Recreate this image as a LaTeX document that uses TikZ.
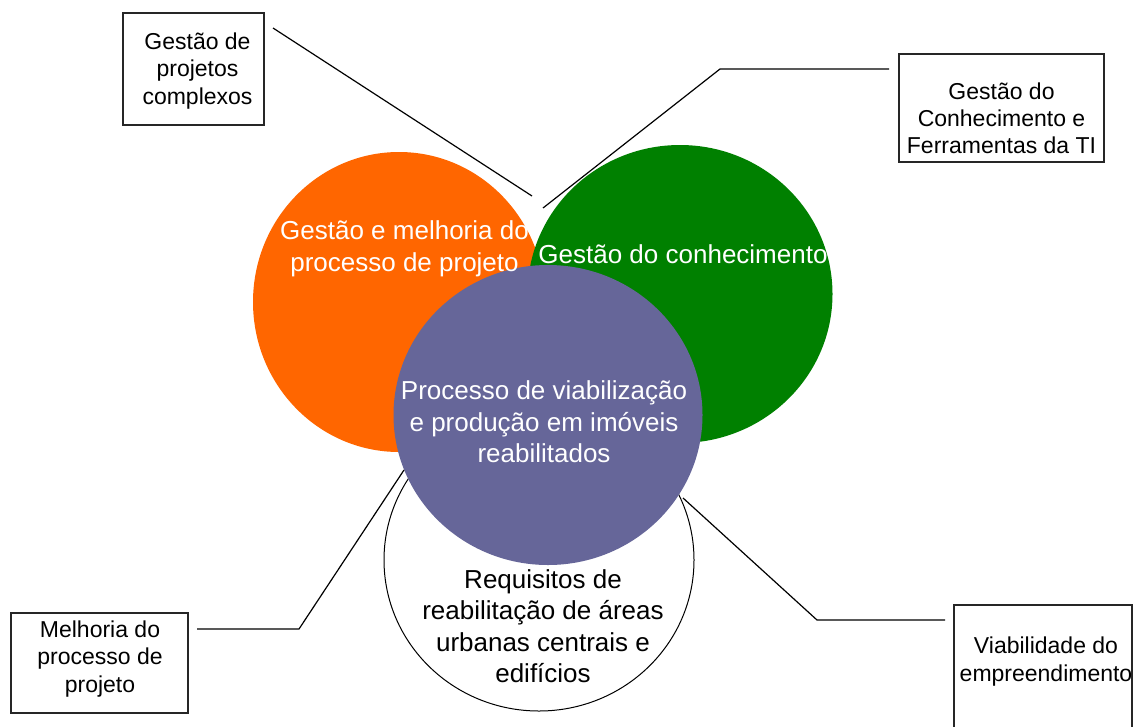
\documentclass[tikz,border=0pt]{standalone}
\usepackage{fontspec}
\setmainfont{Liberation Sans}
\usetikzlibrary{shapes.geometric}
\definecolor{corange}{HTML}{FF6600}
\definecolor{cgreen}{HTML}{008000}
\definecolor{cpurple}{HTML}{666699}
\tikzset{
  blob/.style={ellipse, inner sep=0pt, outer sep=0pt},
  ctext/.style={align=center, font=\fontsize{26}{31.5}\selectfont, inner sep=0pt},
  btext/.style={align=center, font=\fontsize{23}{27.2}\selectfont, inner sep=0pt},
  boxline/.style={draw=black!85, line width=1.2pt},
  conn/.style={draw=black, line width=1.2pt}
}
\begin{document}
\begin{tikzpicture}[x=1pt,y=-1pt]
\useasboundingbox[fill=white] (0,0) rectangle (1134,726);
% circles
\node[blob, fill=white, draw=black, line width=1pt, minimum width=310, minimum height=302] (wc) at (539,560) {};
\node[blob, fill=corange, minimum width=292, minimum height=300] (oc) at (399,302) {};
\node[blob, fill=cgreen, minimum width=305, minimum height=298] (gc) at (680,294) {};
\node[blob, fill=cpurple, minimum width=309, minimum height=300] (pc) at (548,415) {};
% circle texts
\node[ctext, text=white] (ot) at (404.5,249) {Gestão e melhoria do\\processo de projeto};
\node[ctext, text=white] (gt) at (683,254) {Gestão do conhecimento};
\node[ctext, text=white] (pt) at (544,422) {Processo de viabilização\\e produção em imóveis\\reabilitados};
\node[ctext, text=black] (wt) at (543,626) {Requisitos de\\reabilitação de áreas\\urbanas centrais e\\edifícios};
% boxes
\node[boxline, minimum width=141, minimum height=112, inner sep=0pt] (b1) at (193.5,69) {};
\node[btext] (b1t) at (197.5,71) {Gestão de\\projetos\\complexos};
\node[boxline, minimum width=205, minimum height=108, inner sep=0pt] (b2) at (1001.5,108) {};
\node[btext] (b2t) at (1001.5,118) {Gestão do\\Conhecimento e\\Ferramentas da TI};
\node[boxline, minimum width=177, minimum height=100, inner sep=0pt] (b3) at (99.5,663) {};
\node[btext] (b3t) at (100,659) {Melhoria do\\processo de\\projeto};
\draw[boxline] (954,605) rectangle (1132,740);
\node[btext] (b4t) at (1046,661.5) {Viabilidade do\\empreendimento};
% connector coordinates
\coordinate (c1a) at (273,28);
\coordinate (c1b) at (532,196);
\coordinate (c2a) at (889,69);
\coordinate (c2k) at (720,69);
\coordinate (c2b) at (543,208);
\coordinate (c3a) at (197,629);
\coordinate (c3k) at (299,629);
\coordinate (c3b) at (404,470);
\coordinate (c4a) at (945,620);
\coordinate (c4k) at (817,620);
\coordinate (c4b) at (683,498);
\draw[conn] (c1a) -- (c1b);
\draw[conn] (c2a) -- (c2k) -- (c2b);
\draw[conn] (c3a) -- (c3k) -- (c3b);
\draw[conn] (c4a) -- (c4k) -- (c4b);
\end{tikzpicture}
\end{document}
